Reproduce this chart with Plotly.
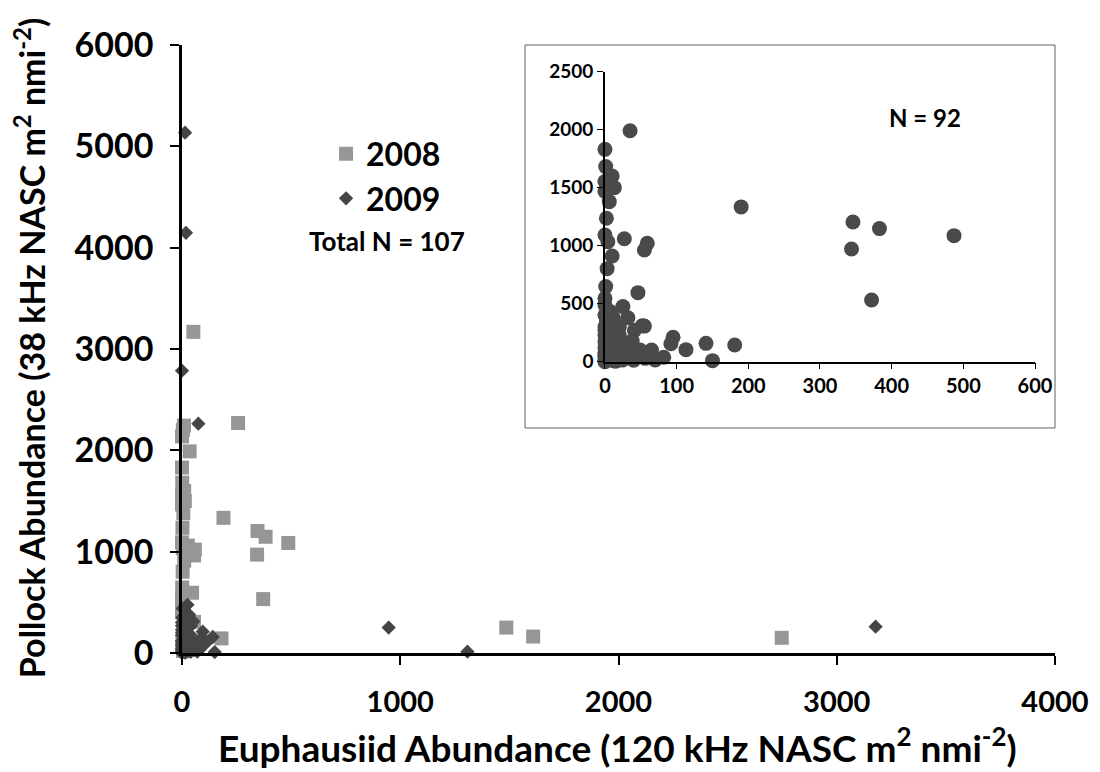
import plotly.graph_objects as go

# Euphausiid (x, 120 kHz) vs pollock (y, 38 kHz) backscatter, NASC m^2 nmi^-2
x_2008 = [52, 257, 9, 4, 0, 1486, 1609, 2748,
          35, 0, 1, 10, 0, 13, 0, 6, 190, 2, 346, 383, 487, 0, 27, 4, 59, 55,
          344, 10, 3, 1, 46, 0, 372, 0, 181, 0, 8, 55, 0, 5, 2, 15]
y_2008 = [3169, 2270, 2244, 2200, 2138, 251, 162, 150,
          1990, 1830, 1681, 1600, 1552, 1500, 1466, 1379, 1334, 1236, 1204, 1147,
          1086, 1092, 1060, 1034, 1020, 963, 971, 911, 802, 647, 595, 546, 532,
          489, 144, 402, 431, 307, 60, 20, 150, 90]

x_2009 = [14, 18, 0, 75, 947, 1308, 3178,
          25, 32, 12, 41, 52, 0, 9, 95, 92, 113, 141, 0, 49, 82, 150, 56, 40, 25,
          12, 0, 3, 24, 26, 0, 2, 5, 18, 30, 8, 15, 4, 0, 0, 20, 35, 60, 70, 45,
          10, 0, 2, 6, 22, 0, 14, 33, 18, 1, 28, 7, 0, 50, 38, 3, 12, 65, 9, 20]
y_2009 = [5135, 4146, 2786, 2263, 251, 13, 260,
          475, 379, 373, 270, 310, 301, 230, 210, 155, 104, 158, 172, 101, 38, 9,
          29, 12, 43, 43, 43, 101, 14, 72, 0, 350, 260, 190, 120, 80, 5, 15, 120,
          230, 300, 30, 60, 15, 55, 150, 80, 30, 60, 100, 10, 25, 90, 60, 200,
          160, 330, 270, 65, 180, 440, 8, 100, 110, 230]

# Inset window: low-abundance subset of both years
INSET_X_MAX = 600
INSET_Y_MAX = 2000

all_x = x_2008 + x_2009
all_y = y_2008 + y_2009
inset_x = [x for x, y in zip(all_x, all_y) if x <= INSET_X_MAX and y < INSET_Y_MAX]
inset_y = [y for x, y in zip(all_x, all_y) if x <= INSET_X_MAX and y < INSET_Y_MAX]

FONT = "Lato"
light = "#969696"
dark = "#454545"

fig = go.Figure()

fig.add_trace(go.Scatter(
    x=x_2008, y=y_2008, mode="markers", name="2008",
    marker=dict(symbol="square", size=14, color=light),
    cliponaxis=False, xaxis="x", yaxis="y"))
fig.add_trace(go.Scatter(
    x=x_2009, y=y_2009, mode="markers", name="2009",
    marker=dict(symbol="diamond", size=11, color=dark),
    cliponaxis=False, xaxis="x", yaxis="y"))
fig.add_trace(go.Scatter(
    x=inset_x, y=inset_y, mode="markers", showlegend=False,
    marker=dict(symbol="circle", size=15, color="#4a4a4a"),
    cliponaxis=False, xaxis="x2", yaxis="y2"))

main_axis = dict(showline=True, linecolor="black", linewidth=2.5, showgrid=False,
                 zeroline=False, ticks="outside", ticklen=9, tickwidth=1.5,
                 tickcolor="black")

fig.update_layout(
    width=1100, height=772,
    margin=dict(l=182, r=45, t=45, b=119),
    paper_bgcolor="white", plot_bgcolor="white",
    font=dict(family=FONT, color="black"),
    xaxis=dict(main_axis, range=[0, 4000], tickvals=[0, 1000, 2000, 3000, 4000],
               tickfont=dict(size=29, family=FONT, weight="bold"),
               ticklabelstandoff=12, domain=[0, 1]),
    yaxis=dict(main_axis, range=[0, 6000], tickvals=list(range(0, 6001, 1000)),
               tickfont=dict(size=34, family=FONT, weight="bold"),
               ticklabelstandoff=10, domain=[0, 1]),
    xaxis2=dict(showline=True, linecolor="black", linewidth=1.5, showgrid=False,
                zeroline=False, ticks="outside", ticklen=6, tickcolor="black",
                range=[0, 600], tickvals=[0, 100, 200, 300, 400, 500, 600],
                tickfont=dict(size=20, family=FONT, weight="bold"),
                domain=[0.4845, 0.9771], anchor="y2"),
    yaxis2=dict(showline=True, linecolor="black", linewidth=1.5, showgrid=False,
                zeroline=False, ticks="outside", ticklen=6, tickcolor="black",
                range=[0, 2500], tickvals=[0, 500, 1000, 1500, 2000, 2500],
                tickfont=dict(size=19, family=FONT, weight="bold"),
                domain=[0.4791, 0.9563], anchor="x2"),
    legend=dict(x=0.165, y=0.866, xanchor="left", yanchor="top",
                bgcolor="rgba(0,0,0,0)",
                font=dict(size=32, family=FONT, weight="bold"),
                itemsizing="trace", tracegroupgap=0),
    shapes=[dict(type="rect", xref="paper", yref="paper",
                 x0=0.3929, x1=1.0, y0=0.3701, y1=1.0,
                 line=dict(color="#606060", width=1), fillcolor="white",
                 layer="below")],
    annotations=[
        dict(text="Pollock Abundance (38 kHz NASC m<sup>2</sup> nmi<sup>-2</sup>)",
             xref="paper", yref="paper", x=-0.174, y=0.5016, textangle=-90,
             xanchor="center", yanchor="middle", showarrow=False,
             font=dict(size=34, family=FONT, weight="bold")),
        dict(text="Euphausiid Abundance (120 kHz NASC m<sup>2</sup> nmi<sup>-2</sup>)",
             xref="paper", yref="paper", x=0.4994, y=-0.151,
             xanchor="center", yanchor="middle", showarrow=False,
             font=dict(size=37, family=FONT, weight="bold")),
        dict(text=f"Total N = {len(all_x)}", xref="paper", yref="paper",
             x=(387 - 182) / 873, y=(653 - 241) / 608,
             xanchor="center", yanchor="middle", showarrow=False,
             font=dict(size=26, family=FONT, weight="bold")),
        dict(text=f"N = {len(inset_x)}", xref="paper", yref="paper",
             x=(925 - 182) / 873, y=(653 - 118) / 608,
             xanchor="center", yanchor="middle", showarrow=False,
             font=dict(size=24, family=FONT, weight="bold")),
    ],
)

fig.write_html("out.html")
